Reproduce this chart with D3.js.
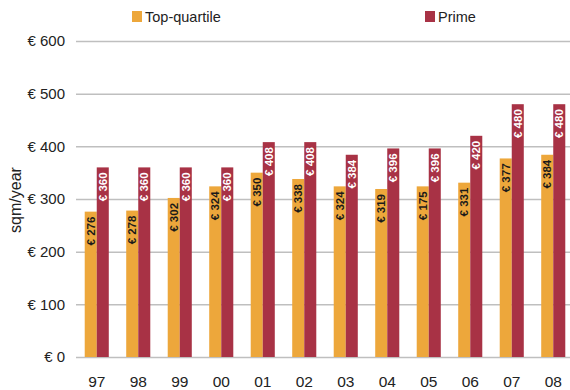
<!DOCTYPE html>
<html>
<head>
<meta charset="utf-8">
<script src="https://cdn.jsdelivr.net/npm/d3@7"></script>
<style>
  html, body { margin: 0; padding: 0; background: #fff; }
  svg { display: block; font-family: "Liberation Sans", Arial, sans-serif; }
</style>
</head>
<body>
<div id="chart"></div>
<script>
const categories = ["97","98","99","00","01","02","03","04","05","06","07","08"];
const seriesNames = ["Top-quartile","Prime"];
const topQuartile = [276, 278, 302, 324, 350, 338, 324, 319, 324, 331, 377, 384];
const topQuartileLabels = ["276","278","302","324","350","338","324","319","175","331","377","384"];
const prime = [360, 360, 360, 360, 408, 408, 384, 396, 396, 420, 480, 480];
const primeLabels = ["360","360","360","360","408","408","384","396","396","420","480","480"];
const yTicks = [0, 100, 200, 300, 400, 500, 600];
const colors = ["#EDA73B", "#A83245"];

const W = 570, H = 390;
const svg = d3.select("#chart").append("svg").attr("width", W).attr("height", H);

const plotLeft = 76, plotRight = 574, plotTop = 41, plotBottom = 357;

const x = d3.scaleBand().domain(categories).range([plotLeft, plotRight])
  .paddingInner(0.42).paddingOuter(0.21);
const x1 = d3.scaleBand().domain(seriesNames).range([0, x.bandwidth()]);
const y = d3.scaleLinear().domain([0, 600]).range([plotBottom, plotTop]);

const yAxis = d3.axisLeft(y).tickValues(yTicks)
  .tickSize(-(570 - plotLeft)).tickPadding(11)
  .tickFormat(d => "€ " + d);
const gy = svg.append("g").attr("transform", `translate(${plotLeft},0)`).call(yAxis);
gy.select(".domain").remove();
gy.selectAll(".tick line").attr("stroke", "#bfbfbf").attr("stroke-width", 1.5);
gy.attr("font-family", null).attr("font-size", null);
gy.selectAll(".tick text").attr("font-size", 15).attr("fill", "#222");

svg.append("text").attr("transform", `translate(21,200) rotate(-90)`)
  .attr("text-anchor", "middle").attr("font-size", 16).attr("fill", "#222")
  .text("sqm/year");

const data = categories.map((c, i) => ({
  cat: c,
  vals: [
    { s: seriesNames[0], v: topQuartile[i], label: topQuartileLabels[i], ci: 0 },
    { s: seriesNames[1], v: prime[i], label: primeLabels[i], ci: 1 }
  ]
}));

const groups = svg.append("g").selectAll("g").data(data).join("g")
  .attr("transform", d => `translate(${x(d.cat)},0)`);

groups.selectAll("rect").data(d => d.vals).join("rect")
  .attr("x", d => x1(d.s)).attr("width", x1.bandwidth())
  .attr("y", d => y(d.v)).attr("height", d => y(0) - y(d.v))
  .attr("fill", d => colors[d.ci]);

groups.selectAll("text.val").data(d => d.vals).join("text")
  .attr("class", "val")
  .attr("transform", d => `translate(${x1(d.s) + x1.bandwidth() / 2 + 4},${y(d.v) + 5}) rotate(-90)`)
  .attr("text-anchor", "end")
  .attr("font-size", 11.5).attr("font-weight", "bold")
  .attr("fill", d => d.ci === 0 ? "#1a1a1a" : "#ffffff")
  .text(d => "€ " + d.label);

svg.append("g").selectAll("text").data(categories).join("text")
  .attr("x", d => x(d) + x.bandwidth() / 2).attr("y", 387)
  .attr("text-anchor", "middle").attr("font-size", 15.5).attr("fill", "#222")
  .text(d => d);

const legendItems = [{ name: seriesNames[0], x: 132 }, { name: seriesNames[1], x: 425 }];
const lg = svg.append("g").selectAll("g").data(legendItems).join("g")
  .attr("transform", d => `translate(${d.x},11)`);
lg.append("rect").attr("width", 10).attr("height", 11)
  .attr("fill", (d, i) => colors[i]);
lg.append("text").attr("x", 13).attr("y", 10.5).attr("font-size", 14.5).attr("fill", "#222")
  .text(d => d.name);
</script>
</body>
</html>
